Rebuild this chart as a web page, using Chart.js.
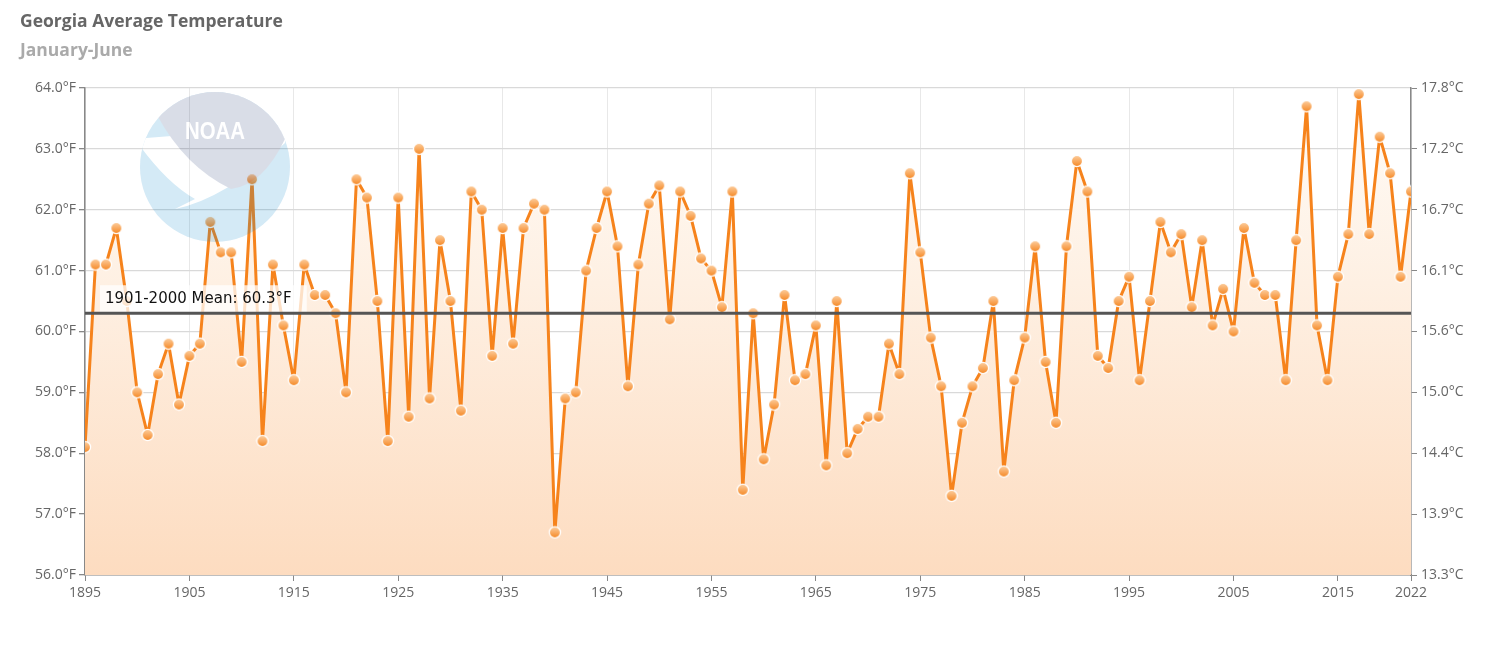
<!DOCTYPE html>
<html>
<head>
<meta charset="utf-8">
<script src="https://cdn.jsdelivr.net/npm/chart.js@4.4.1/dist/chart.umd.min.js"></script>
<style>
    html, body { margin: 0; padding: 0; background: #fff; }
    .container { width: 1486px; height: 658px; position: relative; }
</style>
</head>
<body>
<div class="container"><canvas id="tempChart"></canvas></div>
<script>
// data
const firstYear = 1895;
const lastYear = 2022;
const years = Array.from({ length: lastYear - firstYear + 1 }, (_, i) => firstYear + i);
const temps = [
    58.1, 61.1, 61.1, 61.7, 60.5, 59.0, 58.3, 59.3, 59.8, 58.8,
    59.6, 59.8, 61.8, 61.3, 61.3, 59.5, 62.5, 58.2, 61.1, 60.1,
    59.2, 61.1, 60.6, 60.6, 60.3, 59.0, 62.5, 62.2, 60.5, 58.2,
    62.2, 58.6, 63.0, 58.9, 61.5, 60.5, 58.7, 62.3, 62.0, 59.6,
    61.7, 59.8, 61.7, 62.1, 62.0, 56.7, 58.9, 59.0, 61.0, 61.7,
    62.3, 61.4, 59.1, 61.1, 62.1, 62.4, 60.2, 62.3, 61.9, 61.2,
    61.0, 60.4, 62.3, 57.4, 60.3, 57.9, 58.8, 60.6, 59.2, 59.3,
    60.1, 57.8, 60.5, 58.0, 58.4, 58.6, 58.6, 59.8, 59.3, 62.6,
    61.3, 59.9, 59.1, 57.3, 58.5, 59.1, 59.4, 60.5, 57.7, 59.2,
    59.9, 61.4, 59.5, 58.5, 61.4, 62.8, 62.3, 59.6, 59.4, 60.5,
    60.9, 59.2, 60.5, 61.8, 61.3, 61.6, 60.4, 61.5, 60.1, 60.7,
    60.0, 61.7, 60.8, 60.6, 60.6, 59.2, 61.5, 63.7, 60.1, 59.2,
    60.9, 61.6, 63.9, 61.6, 63.2, 62.6, 60.9, 62.3
];
const xTicks = [1895, 1905, 1915, 1925, 1935, 1945, 1955, 1965, 1975, 1985, 1995, 2005, 2015, 2022];
const meanValue = 60.3;
const meanLabel = '1901-2000 Mean: 60.3°F';
const titleText = 'Georgia Average Temperature';
const subtitleText = 'January-June';

// marker: orange ball with white rim
function makeMarker() {
    const c = document.createElement('canvas');
    c.width = 14; c.height = 14;
    const g = c.getContext('2d');
    const grad = g.createLinearGradient(0, 1, 0, 13);
    grad.addColorStop(0, '#fdd0a2');
    grad.addColorStop(1, '#f5851f');
    g.beginPath();
    g.arc(7, 7, 5.6, 0, Math.PI * 2);
    g.fillStyle = grad;
    g.fill();
    g.lineWidth = 1.3;
    g.strokeStyle = '#ffffff';
    g.stroke();
    return c;
}

// faded NOAA watermark, drawn off screen then blended on top
function makeLogo() {
    const c = document.createElement('canvas');
    c.width = 160; c.height = 160;
    const g = c.getContext('2d');
    const cx = 80, cy = 80, r = 75;
    g.save();
    g.beginPath();
    g.arc(cx, cy, r, 0, Math.PI * 2);
    g.clip();
    g.fillStyle = 'rgb(0,130,200)';
    g.fillRect(0, 0, 160, 160);
    // white bird body
    g.beginPath();
    g.moveTo(0, 52);
    g.quadraticCurveTo(30, 95, 60, 112);
    g.quadraticCurveTo(48, 118, 40, 122);
    g.quadraticCurveTo(90, 112, 150, 56);
    g.lineTo(150, 40);
    g.closePath();
    g.fillStyle = '#ffffff';
    g.fill();
    // navy upper part
    g.beginPath();
    g.moveTo(22, 28);
    g.quadraticCurveTo(20, 0, 80, 0);
    g.lineTo(150, 0);
    g.lineTo(150, 52);
    g.quadraticCurveTo(128, 98, 96, 102);
    g.quadraticCurveTo(50, 80, 22, 28);
    g.closePath();
    g.fillStyle = 'rgb(33,56,115)';
    g.fill();
    g.restore();
    g.save();
    g.fillStyle = '#ffffff';
    g.font = 'bold 24px "Liberation Sans"';
    g.textAlign = 'center';
    g.textBaseline = 'middle';
    g.translate(cx, 45);
    g.scale(0.85, 1);
    g.fillText('NOAA', 0, 0);
    g.restore();
    return c;
}

const marker = makeMarker();
const logo = makeLogo();

const extras = {
    id: 'extras',
    afterDatasetsDraw(chart) {
        const ctx = chart.ctx;
        const area = chart.chartArea;
        const y = chart.scales.y.getPixelForValue(meanValue);
        ctx.save();
        // label box
        ctx.font = '15px "DejaVu Sans"';
        const w = ctx.measureText(meanLabel).width;
        ctx.fillStyle = 'rgba(255,255,255,0.75)';
        ctx.fillRect(area.left + 15, y - 28, w + 20, 28);
        ctx.fillStyle = '#111';
        ctx.textBaseline = 'middle';
        ctx.fillText(meanLabel, area.left + 20, y - 14);
        // mean line
        ctx.beginPath();
        ctx.moveTo(area.left, y);
        ctx.lineTo(area.right, y);
        ctx.lineWidth = 3;
        ctx.strokeStyle = '#555';
        ctx.stroke();
        // watermark
        ctx.globalAlpha = 0.17;
        ctx.drawImage(logo, 135, 87);
        ctx.restore();
    },
    afterDraw(chart) {
        const ctx = chart.ctx;
        ctx.save();
        ctx.textBaseline = 'alphabetic';
        ctx.font = 'bold 17.5px "Open Sans"';
        ctx.fillStyle = '#666';
        ctx.fillText(titleText, 20, 27);
        ctx.fillStyle = '#aaa';
        ctx.fillText(subtitleText, 20, 56);
        ctx.restore();
    }
};

const ctx = document.getElementById('tempChart').getContext('2d');
const chart = new Chart(ctx, {
    type: 'line',
    data: {
        datasets: [
            {
                label: 'Temperature',
                data: years.map((yr, i) => ({ x: yr, y: temps[i] })),
                borderColor: '#f6831c',
                borderWidth: 3,
                borderJoinStyle: 'round',
                tension: 0,
                pointStyle: marker,
                pointRadius: 6,
                fill: 'start',
                backgroundColor: function (context) {
                    const a = context.chart.chartArea;
                    if (!a) {
                        return 'rgba(253,221,194,0.6)';
                    }
                    const grad = context.chart.ctx.createLinearGradient(0, a.top, 0, a.bottom);
                    grad.addColorStop(0, 'rgba(255,252,248,1)');
                    grad.addColorStop(0.4, 'rgba(254,240,227,1)');
                    grad.addColorStop(1, 'rgba(253,220,192,1)');
                    return grad;
                }
            }
        ]
    },
    plugins: [extras],
    options: {
        responsive: true,
        maintainAspectRatio: false,
        animation: false,
        events: [],
        layout: { padding: { top: 88, left: 0, right: 0, bottom: 53 } },
        plugins: {
            legend: { display: false },
            tooltip: { enabled: false }
        },
        scales: {
            x: {
                type: 'linear',
                min: firstYear,
                max: lastYear,
                afterBuildTicks: function (scale) {
                    scale.ticks = xTicks.map(v => ({ value: v }));
                },
                afterFit: function (scale) { scale.height = 30; },
                grid: { color: '#e8e8e8', tickColor: '#888', tickLength: 6, lineWidth: 1 },
                border: { color: '#888', width: 1.5 },
                ticks: {
                    color: '#666',
                    font: { family: 'Open Sans', size: 14 },
                    padding: 4,
                    maxRotation: 0,
                    autoSkip: false,
                    callback: v => String(v)
                }
            },
            y: {
                position: 'left',
                min: 56,
                max: 64,
                afterFit: function (scale) { scale.width = 85; },
                grid: { color: '#d9d9d9', tickColor: '#888', tickLength: 6, lineWidth: 1.3 },
                border: { color: '#888', width: 1.5 },
                ticks: {
                    stepSize: 1,
                    color: '#666',
                    font: { family: 'Open Sans', size: 14 },
                    padding: 3,
                    callback: v => v.toFixed(1) + '°F'
                }
            },
            y2: {
                position: 'right',
                min: 56,
                max: 64,
                afterFit: function (scale) { scale.width = 75; },
                grid: { drawOnChartArea: false, tickColor: '#888', tickLength: 6 },
                border: { color: '#888', width: 1.5 },
                ticks: {
                    stepSize: 1,
                    color: '#666',
                    font: { family: 'Open Sans', size: 14 },
                    padding: 4,
                    callback: v => ((v - 32) * 5 / 9).toFixed(1) + '°C'
                }
            }
        }
    }
});
</script>
</body>
</html>
